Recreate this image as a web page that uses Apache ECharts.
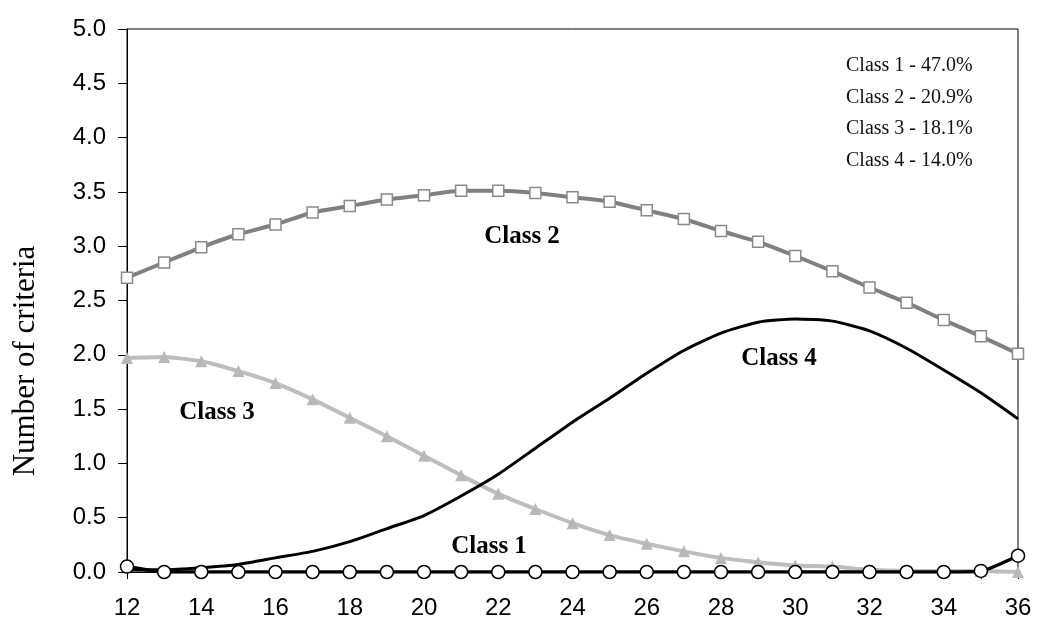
<!DOCTYPE html>
<html lang="en">
<head>
    <meta charset="UTF-8">
    <title>Number of criteria by class</title>
    <script src="https://cdn.jsdelivr.net/npm/echarts@6/dist/echarts.min.js"></script>
    <style>
        html, body { margin: 0; padding: 0; background: #fff; }
        #chart { width: 1050px; height: 636px; }
    </style>
</head>
<body>
<div id="chart"></div>
<script>
    var ages = [12,13,14,15,16,17,18,19,20,21,22,23,24,25,26,27,28,29,30,31,32,33,34,35,36];
    var class1 = [0.05,0,0,0,0,0,0,0,0,0,0,0,0,0,0,0,0,0,0,0,0,0,0,0.01,0.15];
    var class2 = [2.71,2.85,2.99,3.11,3.20,3.31,3.37,3.43,3.47,3.51,3.51,3.49,3.45,3.41,3.33,3.25,3.14,3.04,2.91,2.77,2.62,2.48,2.32,2.17,2.01];
    var class3 = [1.97,1.98,1.94,1.85,1.74,1.59,1.42,1.25,1.07,0.89,0.72,0.58,0.45,0.34,0.26,0.19,0.13,0.09,0.06,0.05,0.02,0.01,0.01,0.01,0];
    var class4 = [0.02,0.02,0.04,0.07,0.13,0.19,0.28,0.40,0.52,0.70,0.90,1.14,1.38,1.60,1.83,2.04,2.20,2.30,2.33,2.31,2.22,2.06,1.86,1.65,1.41];
    var shares = ['Class 1 - 47.0%','Class 2 - 20.9%','Class 3 - 18.1%','Class 4 - 14.0%'];

    function pairs(vals){
        return ages.map(function(a,i){ return [a, vals[i]]; });
    }

    var chart = echarts.init(document.getElementById('chart'));
    var serif = '"Liberation Serif", "Times New Roman", serif';
    var sans = '"Liberation Sans", Arial, sans-serif';

    var graphics = shares.map(function(t,i){
        return {
            type:'text', x:846, y:66 + i*31.5,
            style:{ text:t, font:'20px ' + serif, fill:'#111', verticalAlign:'middle' }
        };
    });
    // series labels inside the plot
    [['Class 2',522,237],['Class 3',217,413],['Class 4',779,359],['Class 1',489,547]].forEach(function(l){
        graphics.push({
            type:'text', x:l[1], y:l[2],
            style:{ text:l[0], font:'bold 25px ' + serif, fill:'#000', align:'center', verticalAlign:'middle' }
        });
    });
    // y axis title, sits lower than the plot centre
    graphics.push({
        type:'text', x:26, y:361, rotation:Math.PI/2,
        style:{ text:'Number of criteria', font:'31px ' + serif, fill:'#000', align:'center', verticalAlign:'middle' }
    });

    var option = {
        animation:false,
        grid:{ left:127, right:32, top:29, bottom:64, show:true, borderColor:'#000', borderWidth:1 },
        xAxis:{
            type:'value', min:12, max:36, interval:1,
            axisLine:{ onZero:false, lineStyle:{ color:'#000', width:1 } },
            axisTick:{ inside:false, length:7, lineStyle:{ color:'#000' } },
            axisLabel:{
                margin:24, color:'#000', fontFamily:sans, fontSize:24,
                formatter:function(v){ return v % 2 === 0 ? String(v) : ''; }
            },
            splitLine:{ show:false }
        },
        yAxis:{
            type:'value', min:0, max:5, interval:0.5,
            axisLine:{ show:true, lineStyle:{ color:'#000', width:1 } },
            axisTick:{ show:true, length:9, lineStyle:{ color:'#000' } },
            axisLabel:{
                margin:21, color:'#000', fontFamily:sans, fontSize:24,
                formatter:function(v){ return v.toFixed(1); }
            },
            splitLine:{ show:false }
        },
        graphic:graphics,
        series:[
            {
                name:'Class 3', type:'line', data:pairs(class3), smooth:0.2,
                symbol:'triangle', symbolSize:12,
                lineStyle:{ color:'#bdbdbd', width:4 },
                itemStyle:{ color:'#b8b8b8', borderWidth:0 }
            },
            {
                name:'Class 4', type:'line', data:pairs(class4), smooth:0.2,
                showSymbol:false, symbol:'none',
                lineStyle:{ color:'#000', width:3 }
            },
            {
                name:'Class 2', type:'line', data:pairs(class2), smooth:0.2,
                symbol:'rect', symbolSize:11,
                lineStyle:{ color:'#808080', width:4 },
                itemStyle:{ color:'#fff', borderColor:'#8a8a8a', borderWidth:1.5 }
            },
            {
                name:'Class 1', type:'line', data:pairs(class1), smooth:0.2,
                symbol:'circle', symbolSize:13,
                lineStyle:{ color:'#000', width:3.5 },
                itemStyle:{ color:'#fff', borderColor:'#000', borderWidth:1.5 }
            }
        ]
    };
    chart.setOption(option);
</script>
</body>
</html>
